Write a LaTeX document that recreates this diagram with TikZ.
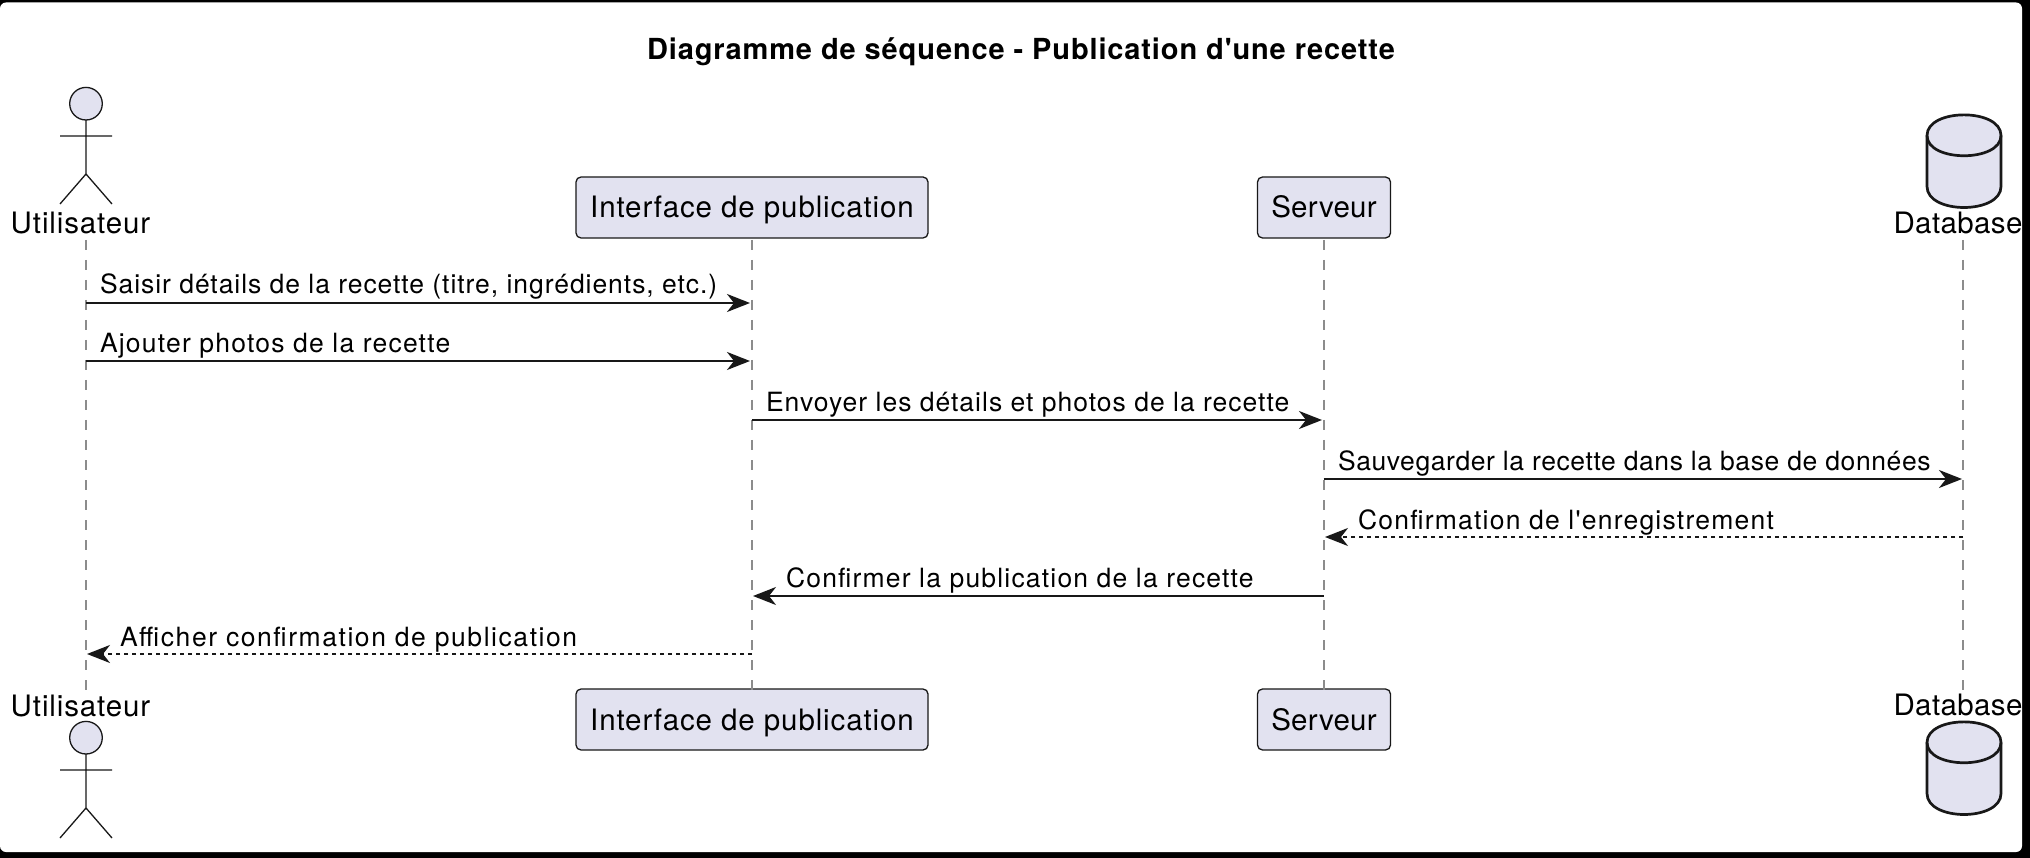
\documentclass[tikz,border=0pt]{standalone}
\usepackage{fontspec}
\setmainfont{TeX Gyre Heros}[Ligatures=TeXOff]
\usetikzlibrary{arrows.meta}
\definecolor{partfill}{HTML}{E2E2F0}
\definecolor{ink}{HTML}{181818}
\definecolor{lifegray}{HTML}{8C8C8C}
\tikzset{
  msgfont/.style={font=\fontsize{26.5pt}{30pt}\selectfont\addfontfeatures{LetterSpace=#1}},
  partfont/.style={font=\fontsize{29.5pt}{34pt}\selectfont\addfontfeatures{LetterSpace=#1}},
  lbl/.style={inner sep=0pt,outer sep=0pt,text=black,anchor=base west,msgfont=#1},
  plbl/.style={inner sep=0pt,outer sep=0pt,text=black,anchor=base,partfont=#1},
  part/.style={draw=ink,fill=partfill,line width=1.3pt,rounded corners=5pt,minimum height=61pt,inner sep=0pt,text=black,partfont=#1,text height=27pt,text depth=6pt},
  life/.style={draw=lifegray,line width=2pt,dash pattern=on 10pt off 10pt},
  fig/.style={draw=ink,line width=1.3pt},
  dbl/.style={draw=ink,line width=2.7pt,fill=partfill},
  msg/.style={draw=ink,line width=2pt,-{Stealth[length=23pt,width=18pt,inset=7pt]}},
  rep/.style={msg,dash pattern=on 4pt off 4pt},
}
\begin{document}
\begin{tikzpicture}[x=1pt,y=-1pt]
\useasboundingbox (0,0) rectangle (2030,858);
\fill[black] (0,0) rectangle (2030,858);
\fill[white,rounded corners=6pt] (0,2.5) rectangle (2022,852);
\node[inner sep=0pt,text=black,anchor=base,font=\fontsize{29pt}{34pt}\selectfont\bfseries\addfontfeatures{LetterSpace=3}] (title) at (1021,60) {Diagramme de séquence - Publication d'une recette};
% participants
\node[part=3,minimum width=352pt] (itop) at (752,207.5) {Interface de publication};
\node[part=1.1,minimum width=133pt] (stop) at (1324,207.5) {Serveur};
\node[part=3,minimum width=352pt] (ibot) at (752,719.5) {Interface de publication};
\node[part=1.1,minimum width=133pt] (sbot) at (1324,719.5) {Serveur};
\node[plbl=3] (utop) at (80.5,234) {Utilisateur};
\node[plbl=3] (ubot) at (80.5,716) {Utilisateur};
\node[plbl=1.3] (dtop) at (1958,234) {Database};
\node[plbl=1.3] (dbot) at (1958,715) {Database};
% lifeline ends
\coordinate (ua) at (86,240); \coordinate (ub) at (86,690);
\coordinate (da) at (1963,240); \coordinate (db) at (1963,690);
\coordinate (ia) at (752,240); \coordinate (ib) at (752,690);
\coordinate (sa) at (1323.5,240); \coordinate (sb) at (1323.5,690);
\draw[life] (ua) -- (ub);
\draw[life] (ia) -- (ib);
\draw[life] (sa) -- (sb);
\draw[life] (da) -- (db);
% actors
\foreach \y in {0,634}{
  \begin{scope}[yshift=-\y pt]
  \draw[fig,fill=partfill] (86,103.7) circle (16.3);
  \draw[fig] (86,120) -- (86,174) (60,136) -- (112,136) (60,204) -- (86,174) -- (112,204);
  \end{scope}
}
% databases
\foreach \y in {0,607}{
  \begin{scope}[yshift=-\y pt]
  \draw[dbl] (1927,135.5) .. controls (1927,108) and (2001,108) .. (2001,135.5) -- (2001,186.5) .. controls (2001,214.5) and (1927,214.5) .. (1927,186.5) -- cycle;
  \draw[dbl,fill=none] (1927,135.5) .. controls (1927,162.5) and (2001,162.5) .. (2001,135.5);
  \end{scope}
}
% message ends
\coordinate (m1a) at (86,303); \coordinate (m1b) at (750,303);
\coordinate (m2a) at (86,361); \coordinate (m2b) at (750,361);
\coordinate (m3a) at (752,420); \coordinate (m3b) at (1322,420);
\coordinate (m4a) at (1323.5,479); \coordinate (m4b) at (1962,479);
\coordinate (m5a) at (1963,537); \coordinate (m5b) at (1325,537);
\coordinate (m6a) at (1323.5,596); \coordinate (m6b) at (753,596);
\coordinate (m7a) at (752,654); \coordinate (m7b) at (87,654);
\draw[msg] (m1a) -- (m1b);
\draw[msg] (m2a) -- (m2b);
\draw[msg] (m3a) -- (m3b);
\draw[msg] (m4a) -- (m4b);
\draw[rep] (m5a) -- (m5b);
\draw[msg] (m6a) -- (m6b);
\draw[rep] (m7a) -- (m7b);
\node[lbl=3.6] (t1) at (100,294) {Saisir détails de la recette (titre, ingrédients, etc.)};
\node[lbl=4.6] (t2) at (100,353) {Ajouter photos de la recette};
\node[lbl=3.8] (t3) at (766,412) {Envoyer les détails et photos de la recette};
\node[lbl=2.25] (t4) at (1338,470.5) {Sauvegarder la recette dans la base de données};
\node[lbl=4.65] (t5) at (1358,529) {Confirmation de l'enregistrement};
\node[lbl=4.5] (t6) at (786,587.5) {Confirmer la publication de la recette};
\node[lbl=5.9] (t7) at (120,646) {Afficher confirmation de publication};
\end{tikzpicture}
\end{document}
